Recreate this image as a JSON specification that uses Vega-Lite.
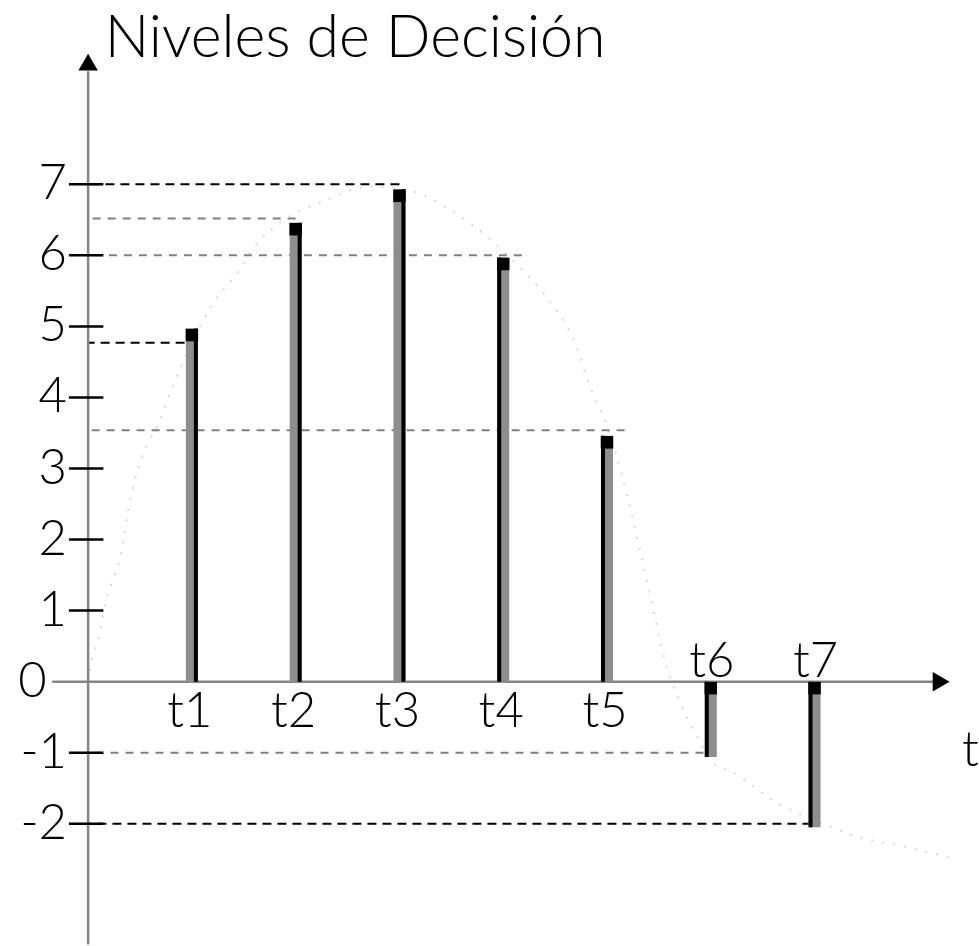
{
  "$schema": "https://vega.github.io/schema/vega-lite/v6.json",
  "width": 979,
  "height": 946,
  "autosize": {"type": "fit", "contains": "padding"},
  "padding": 0,
  "background": "white",
  "config": {"view": {"stroke": null}},
  "datasets": {
    "bars": [
      {"label": "t1", "t": 1, "v": 4.97},
      {"label": "t2", "t": 2, "v": 6.46},
      {"label": "t3", "t": 3, "v": 6.93},
      {"label": "t4", "t": 4, "v": 5.97},
      {"label": "t5", "t": 5, "v": 3.46},
      {"label": "t6", "t": 6, "v": -1.06},
      {"label": "t7", "t": 7, "v": -2.05}
    ],
    "ticks": [
      {"v": 7, "label": "7"},
      {"v": 6, "label": "6"},
      {"v": 5, "label": "5"},
      {"v": 4, "label": "4"},
      {"v": 3, "label": "3"},
      {"v": 2, "label": "2"},
      {"v": 1, "label": "1"},
      {"v": 0, "label": "0"},
      {"v": -1, "label": "-1"},
      {"v": -2, "label": "-2"}
    ],
    "dashDark": [
      {"v": 7, "t_end": 3.0},
      {"v": 4.77, "t_end": 0.93},
      {"v": -2, "t_end": 6.97}
    ],
    "dashLight": [
      {"v": 6.52, "t_end": 2.0},
      {"v": 6, "t_end": 4.18},
      {"v": 3.54, "t_end": 5.17},
      {"v": -1, "t_end": 5.93}
    ],
    "curve": [
      {"t": 0.005, "v": 0},
      {"t": 0.033, "v": 0.29},
      {"t": 0.1, "v": 0.6},
      {"t": 0.175, "v": 1.16},
      {"t": 0.24, "v": 1.44},
      {"t": 0.31, "v": 1.76},
      {"t": 0.41, "v": 2.6},
      {"t": 0.51, "v": 3.12},
      {"t": 0.69, "v": 3.68},
      {"t": 0.83, "v": 4.21},
      {"t": 1.22, "v": 5.36},
      {"t": 1.47, "v": 5.82},
      {"t": 1.57, "v": 6.06},
      {"t": 2.33, "v": 6.8},
      {"t": 2.73, "v": 6.97},
      {"t": 3.13, "v": 6.9},
      {"t": 3.51, "v": 6.62},
      {"t": 3.84, "v": 6.27},
      {"t": 4.16, "v": 5.83},
      {"t": 4.44, "v": 5.37},
      {"t": 4.67, "v": 4.84},
      {"t": 4.87, "v": 4.03},
      {"t": 4.96, "v": 3.75},
      {"t": 5.43, "v": 1.13},
      {"t": 5.55, "v": 0.34},
      {"t": 5.72, "v": -0.34},
      {"t": 5.9, "v": -0.85},
      {"t": 6.01, "v": -1.13},
      {"t": 6.23, "v": -1.29},
      {"t": 6.62, "v": -1.69},
      {"t": 6.81, "v": -1.83},
      {"t": 7.19, "v": -2.06},
      {"t": 7.45, "v": -2.2},
      {"t": 7.76, "v": -2.29},
      {"t": 8.18, "v": -2.43},
      {"t": 8.32, "v": -2.48}
    ]
  },
  "layer": [
    {
      "data": {"name": "curve"},
      "mark": {"type": "line", "color": "#d6d6ea", "strokeWidth": 2, "strokeDash": [2, 9], "interpolate": "monotone"},
      "encoding": {
        "x": {"field": "t", "type": "quantitative", "scale": {"domain": [-0.8009, 8.4787], "nice": false, "zero": false}, "axis": null},
        "y": {"field": "v", "type": "quantitative", "scale": {"domain": [-3.6364, 9.5944], "nice": false, "zero": false}, "axis": null}
      }
    },
    {
      "data": {"name": "dashLight"},
      "mark": {"type": "rule", "color": "#808080", "strokeWidth": 2, "strokeDash": [8, 7]},
      "encoding": {
        "x": {"field": "t_end", "type": "quantitative", "scale": {"domain": [-0.8009, 8.4787], "nice": false, "zero": false}, "axis": null},
        "x2": {"datum": 0},
        "y": {"field": "v", "type": "quantitative", "scale": {"domain": [-3.6364, 9.5944], "nice": false, "zero": false}, "axis": null}
      }
    },
    {
      "data": {"name": "dashDark"},
      "mark": {"type": "rule", "color": "#000000", "strokeWidth": 2, "strokeDash": [9, 6]},
      "encoding": {
        "x": {"field": "t_end", "type": "quantitative", "scale": {"domain": [-0.8009, 8.4787], "nice": false, "zero": false}, "axis": null},
        "x2": {"datum": 0},
        "y": {"field": "v", "type": "quantitative", "scale": {"domain": [-3.6364, 9.5944], "nice": false, "zero": false}, "axis": null}
      }
    },
    {
      "data": {"values": [{}]},
      "mark": {"type": "rule", "color": "#858585", "strokeWidth": 2.5},
      "encoding": {
        "x": {"datum": 0, "type": "quantitative", "scale": {"domain": [-0.8009, 8.4787], "nice": false, "zero": false}, "axis": null},
        "y": {"datum": 8.59, "type": "quantitative", "scale": {"domain": [-3.6364, 9.5944], "nice": false, "zero": false}, "axis": null},
        "y2": {"datum": -3.7}
      }
    },
    {
      "data": {"values": [{}]},
      "mark": {"type": "rule", "color": "#858585", "strokeWidth": 2.5},
      "encoding": {
        "x": {"datum": -0.346, "type": "quantitative", "scale": {"domain": [-0.8009, 8.4787], "nice": false, "zero": false}, "axis": null},
        "x2": {"datum": 8.2},
        "y": {"datum": 0, "type": "quantitative", "scale": {"domain": [-3.6364, 9.5944], "nice": false, "zero": false}, "axis": null}
      }
    },
    {
      "data": {"values": [{}]},
      "mark": {"type": "point", "shape": "triangle-up", "filled": true, "color": "#000000", "size": 380, "opacity": 1},
      "encoding": {
        "x": {"datum": 0, "type": "quantitative", "scale": {"domain": [-0.8009, 8.4787], "nice": false, "zero": false}, "axis": null},
        "y": {"datum": 8.72, "type": "quantitative", "scale": {"domain": [-3.6364, 9.5944], "nice": false, "zero": false}, "axis": null}
      }
    },
    {
      "data": {"values": [{}]},
      "mark": {"type": "point", "shape": "triangle-right", "filled": true, "color": "#000000", "size": 380, "opacity": 1},
      "encoding": {
        "x": {"datum": 8.22, "type": "quantitative", "scale": {"domain": [-0.8009, 8.4787], "nice": false, "zero": false}, "axis": null},
        "y": {"datum": 0, "type": "quantitative", "scale": {"domain": [-3.6364, 9.5944], "nice": false, "zero": false}, "axis": null}
      }
    },
    {
      "data": {"name": "ticks"},
      "transform": [{"filter": "datum.v != 0"}],
      "mark": {"type": "rule", "color": "#000000", "strokeWidth": 2.5},
      "encoding": {
        "x": {"datum": -0.185, "type": "quantitative", "scale": {"domain": [-0.8009, 8.4787], "nice": false, "zero": false}, "axis": null},
        "x2": {"datum": 0.147},
        "y": {"field": "v", "type": "quantitative", "scale": {"domain": [-3.6364, 9.5944], "nice": false, "zero": false}, "axis": null}
      }
    },
    {
      "data": {"name": "ticks"},
      "transform": [{"filter": "datum.v != 0"}],
      "mark": {"type": "text", "align": "right", "baseline": "middle", "font": "Lato", "fontWeight": 300, "fontSize": 49, "color": "#000000"},
      "encoding": {
        "x": {"datum": -0.204, "type": "quantitative", "scale": {"domain": [-0.8009, 8.4787], "nice": false, "zero": false}, "axis": null},
        "y": {"field": "v", "type": "quantitative", "scale": {"domain": [-3.6364, 9.5944], "nice": false, "zero": false}, "axis": null},
        "text": {"field": "label", "type": "nominal"}
      }
    },
    {
      "data": {"name": "ticks"},
      "transform": [{"filter": "datum.v == 0"}],
      "mark": {"type": "text", "align": "right", "baseline": "middle", "font": "Lato", "fontWeight": 300, "fontSize": 49, "color": "#000000"},
      "encoding": {
        "x": {"datum": -0.4, "type": "quantitative", "scale": {"domain": [-0.8009, 8.4787], "nice": false, "zero": false}, "axis": null},
        "y": {"field": "v", "type": "quantitative", "scale": {"domain": [-3.6364, 9.5944], "nice": false, "zero": false}, "axis": null},
        "text": {"field": "label", "type": "nominal"}
      }
    },
    {
      "data": {"name": "bars"},
      "mark": {"type": "bar", "size": 12, "color": "#8e8e8e"},
      "encoding": {
        "x": {"field": "t", "type": "quantitative", "scale": {"domain": [-0.8009, 8.4787], "nice": false, "zero": false}, "axis": null},
        "y": {"field": "v", "type": "quantitative", "scale": {"domain": [-3.6364, 9.5944], "nice": false, "zero": false}, "axis": null},
        "y2": {"datum": 0}
      }
    },
    {
      "data": {"name": "bars"},
      "transform": [{"filter": "datum.t <= 3"}],
      "mark": {"type": "bar", "size": 4, "color": "#000000", "xOffset": 4},
      "encoding": {
        "x": {"field": "t", "type": "quantitative", "scale": {"domain": [-0.8009, 8.4787], "nice": false, "zero": false}, "axis": null},
        "y": {"field": "v", "type": "quantitative", "scale": {"domain": [-3.6364, 9.5944], "nice": false, "zero": false}, "axis": null},
        "y2": {"datum": 0}
      }
    },
    {
      "data": {"name": "bars"},
      "transform": [{"filter": "datum.t > 3"}],
      "mark": {"type": "bar", "size": 4, "color": "#000000", "xOffset": -4},
      "encoding": {
        "x": {"field": "t", "type": "quantitative", "scale": {"domain": [-0.8009, 8.4787], "nice": false, "zero": false}, "axis": null},
        "y": {"field": "v", "type": "quantitative", "scale": {"domain": [-3.6364, 9.5944], "nice": false, "zero": false}, "axis": null},
        "y2": {"datum": 0}
      }
    },
    {
      "data": {"name": "bars"},
      "transform": [{"filter": "datum.v > 0"}],
      "mark": {"type": "point", "shape": "square", "filled": true, "color": "#000000", "size": 156, "opacity": 1, "yOffset": 6.5},
      "encoding": {
        "x": {"field": "t", "type": "quantitative", "scale": {"domain": [-0.8009, 8.4787], "nice": false, "zero": false}, "axis": null},
        "y": {"field": "v", "type": "quantitative", "scale": {"domain": [-3.6364, 9.5944], "nice": false, "zero": false}, "axis": null}
      }
    },
    {
      "data": {"name": "bars"},
      "transform": [{"filter": "datum.v < 0"}],
      "mark": {"type": "point", "shape": "square", "filled": true, "color": "#000000", "size": 156, "opacity": 1, "yOffset": 6.5},
      "encoding": {
        "x": {"field": "t", "type": "quantitative", "scale": {"domain": [-0.8009, 8.4787], "nice": false, "zero": false}, "axis": null},
        "y": {"datum": 0, "type": "quantitative", "scale": {"domain": [-3.6364, 9.5944], "nice": false, "zero": false}, "axis": null}
      }
    },
    {
      "data": {"name": "bars"},
      "transform": [{"filter": "datum.v > 0"}],
      "mark": {"type": "text", "align": "center", "baseline": "middle", "dy": 30, "dx": -2, "font": "Lato", "fontWeight": 300, "fontSize": 49, "color": "#000000"},
      "encoding": {
        "x": {"field": "t", "type": "quantitative", "scale": {"domain": [-0.8009, 8.4787], "nice": false, "zero": false}, "axis": null},
        "y": {"datum": 0, "type": "quantitative", "scale": {"domain": [-3.6364, 9.5944], "nice": false, "zero": false}, "axis": null},
        "text": {"field": "label", "type": "nominal"}
      }
    },
    {
      "data": {"name": "bars"},
      "transform": [{"filter": "datum.v < 0"}],
      "mark": {"type": "text", "align": "center", "baseline": "middle", "dy": -20, "dx": 1, "font": "Lato", "fontWeight": 300, "fontSize": 49, "color": "#000000"},
      "encoding": {
        "x": {"field": "t", "type": "quantitative", "scale": {"domain": [-0.8009, 8.4787], "nice": false, "zero": false}, "axis": null},
        "y": {"datum": 0, "type": "quantitative", "scale": {"domain": [-3.6364, 9.5944], "nice": false, "zero": false}, "axis": null},
        "text": {"field": "label", "type": "nominal"}
      }
    },
    {
      "data": {"values": [{"label": "t"}]},
      "mark": {"type": "text", "align": "left", "baseline": "middle", "font": "Lato", "fontWeight": 300, "fontSize": 49, "color": "#000000"},
      "encoding": {
        "x": {"datum": 8.42, "type": "quantitative", "scale": {"domain": [-0.8009, 8.4787], "nice": false, "zero": false}, "axis": null},
        "y": {"datum": -0.97, "type": "quantitative", "scale": {"domain": [-3.6364, 9.5944], "nice": false, "zero": false}, "axis": null},
        "text": {"field": "label", "type": "nominal"}
      }
    },
    {
      "data": {"values": [{"label": "Niveles de Decisión"}]},
      "mark": {"type": "text", "align": "left", "baseline": "alphabetic", "font": "Lato", "fontWeight": 300, "fontSize": 59, "color": "#000000"},
      "encoding": {
        "x": {"datum": 0.16, "type": "quantitative", "scale": {"domain": [-0.8009, 8.4787], "nice": false, "zero": false}, "axis": null},
        "y": {"datum": 8.797, "type": "quantitative", "scale": {"domain": [-3.6364, 9.5944], "nice": false, "zero": false}, "axis": null},
        "text": {"field": "label", "type": "nominal"}
      }
    }
  ]
}
